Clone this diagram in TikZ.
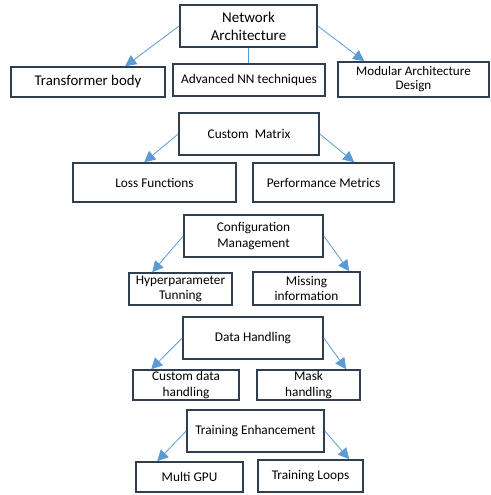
\documentclass[tikz,border=0pt]{standalone}
\usepackage{fontspec}
\setmainfont{Carlito}
\usepackage{xcolor}
\usepackage{tikz}
\usetikzlibrary{arrows.meta}

\definecolor{boxline}{HTML}{2F3E50}
\definecolor{arrblue}{HTML}{5B9BD5}

\begin{document}
\begin{tikzpicture}[x=1pt, y=-1pt,
box/.style={draw=boxline, line width=1.6pt, inner sep=0pt, align=center, font=\fontsize{13.3}{15.5}\selectfont},
arr/.style={draw=arrblue, line width=0.8pt, -{Triangle[length=11pt, width=11pt]}},
link/.style={draw=arrblue, line width=0.8pt}]

\useasboundingbox (0,0) rectangle (490,495);

% Network architecture and its parts
\node[box, minimum width=137pt, minimum height=42pt, font=\fontsize{15}{18}\selectfont] (na) at (248.5,26) {Network\\Architecture};
\node[box, minimum width=154pt, minimum height=30pt, font=\fontsize{14.8}{17}\selectfont] (tb) at (88,82) {Transformer body};
\node[box, minimum width=152pt, minimum height=32pt] (adv) at (249,80) {Advanced NN techniques};
\node[box, minimum width=151pt, minimum height=35pt, font=\fontsize{13.1}{14}\selectfont] (md) at (413.5,79.5) {Modular Architecture\\Design};
\draw[arr] (na.west) -- ([xshift=115pt]tb.north west);
\draw[link] (na.south) -- (na.south |- adv.north);
\draw[arr] (na.east) -- ([xshift=27pt]md.north west);

% Custom matrix
\node[box, minimum width=140pt, minimum height=42pt] (cm) at (249,134) {Custom\ \ Matrix};
\node[box, minimum width=163pt, minimum height=39pt] (lf) at (154.5,182.5) {Loss Functions};
\node[box, minimum width=141pt, minimum height=39pt] (pm) at (323.5,182.5) {Performance Metrics};
\draw[arr] (cm.west) -- ([xshift=72pt]lf.north west);
\draw[arr] (cm.east) -- ([xshift=102pt]pm.north west);

% Configuration management
\node[box, minimum width=139pt, minimum height=42pt] (cfg) at (253.5,236) {Configuration\\Management};
\node[box, minimum width=103pt, minimum height=32pt] (hp) at (180.5,289) {Hyperparameter\\Tunning};
\node[box, minimum width=107pt, minimum height=33pt] (mi) at (306.5,288.5) {Missing\\information};
\draw[arr] (cfg.west) -- ([xshift=24pt]hp.north west);
\draw[arr] (cfg.east) -- ([xshift=97pt]mi.north west);

% Data handling
\node[box, minimum width=140pt, minimum height=42pt] (dh) at (253,338) {Data Handling};
\node[box, minimum width=106pt, minimum height=30pt] (cd) at (186,385) {Custom data\\handling};
\node[box, minimum width=103pt, minimum height=30pt] (mh) at (308.5,385) {Mask\\handling};
\draw[arr] (dh.west) -- ([xshift=19pt]cd.north west);
\draw[arr] (dh.east) -- ([xshift=90pt]mh.north west);

% Training enhancement
\node[box, minimum width=137pt, minimum height=42pt] (te) at (255.5,431) {Training Enhancement};
\node[box, minimum width=107pt, minimum height=30pt] (mg) at (189.5,477) {Multi GPU};
\node[box, minimum width=105pt, minimum height=32pt] (tl) at (310.5,476) {Training Loops};
\draw[arr] (te.west) -- ([xshift=22pt]mg.north west);
\draw[arr] (te.east) -- ([xshift=92pt]tl.north west);
\end{tikzpicture}
\end{document}
